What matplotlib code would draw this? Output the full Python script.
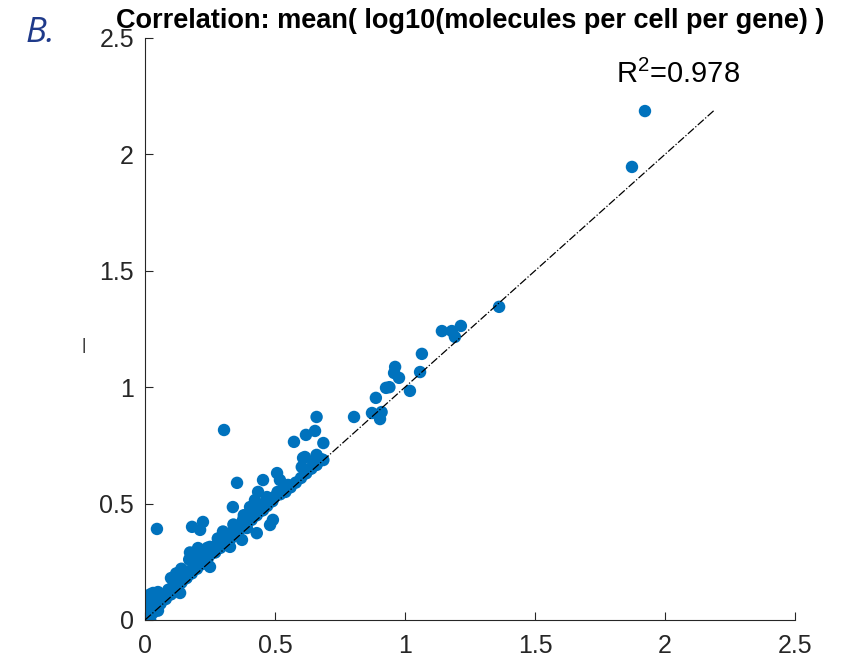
import matplotlib
matplotlib.use('Agg')
import matplotlib.pyplot as plt

# mean log10 molecules per cell per gene, method A (x) vs method B (y)
x = [0.00, 0.01, 0.02, 0.00, 0.01, 0.03, 0.02, 0.04, 0.05, 0.03, 0.06, 0.07,
     0.08, 0.05, 0.10, 0.09, 0.12, 0.11, 0.13, 0.10, 0.14, 0.15, 0.12, 0.16,
     0.17, 0.14, 0.18, 0.19, 0.20, 0.21, 0.17, 0.22, 0.23, 0.20, 0.24, 0.25,
     0.26, 0.24, 0.27, 0.28, 0.29, 0.30, 0.28, 0.31, 0.32, 0.33, 0.30, 0.34,
     0.35, 0.36, 0.34, 0.37, 0.38, 0.39, 0.40, 0.38, 0.41, 0.42, 0.43, 0.44,
     0.42, 0.45, 0.46, 0.47, 0.48, 0.49, 0.50, 0.51, 0.52, 0.53, 0.54, 0.55,
     0.56, 0.58, 0.60, 0.62, 0.64, 0.66, 0.68,
     0.008, 0.031, 0.046, 0.096, 0.123, 0.135, 0.146, 0.135, 0.173, 0.181,
     0.204, 0.212, 0.223, 0.238, 0.250, 0.250, 0.277, 0.300, 0.304, 0.327,
     0.338, 0.338, 0.354, 0.354, 0.373, 0.377, 0.392, 0.404, 0.415, 0.423,
     0.430, 0.435, 0.454, 0.454, 0.469, 0.481, 0.492, 0.508, 0.519, 0.558,
     0.573, 0.603, 0.608, 0.615, 0.619, 0.647, 0.654, 0.660, 0.660, 0.660,
     0.686, 0.686, 0.804, 0.873, 0.888, 0.904, 0.910, 0.927, 0.940, 0.958,
     0.962, 0.977, 1.019, 1.058, 1.065, 1.142, 1.180, 1.192, 1.215, 1.362,
     1.873, 1.923]
y = [0.01, 0.02, 0.00, 0.05, 0.08, 0.03, 0.11, 0.06, 0.04, 0.09, 0.07, 0.10,
     0.09, 0.12, 0.11, 0.13, 0.14, 0.15, 0.17, 0.18, 0.16, 0.19, 0.20, 0.18,
     0.21, 0.22, 0.20, 0.23, 0.22, 0.25, 0.26, 0.24, 0.27, 0.29, 0.26, 0.28,
     0.30, 0.31, 0.29, 0.32, 0.31, 0.33, 0.35, 0.34, 0.36, 0.35, 0.38, 0.37,
     0.39, 0.38, 0.41, 0.40, 0.42, 0.41, 0.44, 0.45, 0.43, 0.46, 0.45, 0.48,
     0.49, 0.47, 0.50, 0.49, 0.52, 0.51, 0.53, 0.55, 0.54, 0.56, 0.55, 0.58,
     0.57, 0.59, 0.61, 0.63, 0.65, 0.67, 0.69,
     0.086, 0.116, 0.391, 0.129, 0.185, 0.206, 0.172, 0.116, 0.290, 0.400,
     0.309, 0.387, 0.421, 0.271, 0.314, 0.228, 0.322, 0.344, 0.816, 0.314,
     0.485, 0.378, 0.589, 0.400, 0.344, 0.430, 0.395, 0.485, 0.460, 0.515,
     0.373, 0.550, 0.601, 0.472, 0.528, 0.408, 0.430, 0.631, 0.601, 0.576,
     0.765, 0.657, 0.696, 0.700, 0.795, 0.674, 0.812, 0.709, 0.666, 0.872,
     0.760, 0.687, 0.872, 0.889, 0.954, 0.863, 0.893, 0.997, 1.000, 1.061,
     1.087, 1.040, 0.984, 1.065, 1.143, 1.241, 1.241, 1.216, 1.263, 1.345,
     1.946, 2.186]
fit_x = [0, 2.19]
ticks = [0, 0.5, 1, 1.5, 2, 2.5]
tick_labels = ['0', '0.5', '1', '1.5', '2', '2.5']
r2_label = 'R$^2$=0.978'
title = 'Correlation: mean( log10(molecules per cell per gene) )'

plt.rcParams['font.family'] = ['Liberation Sans', 'DejaVu Sans']
plt.rcParams['mathtext.fontset'] = 'custom'
plt.rcParams['mathtext.rm'] = 'Liberation Sans'
plt.rcParams['mathtext.it'] = 'Liberation Sans'

fig = plt.figure(figsize=(8.41, 6.67), dpi=100)
ax = fig.add_axes([0.1724, 0.0705, 0.7729, 0.8726])

ax.scatter(x, y, s=80, color='#0072BD', edgecolors='none', zorder=2)
ax.plot(fit_x, fit_x, color='black', linestyle='-.', linewidth=0.9, zorder=3)

ax.set_xlim(0, 2.5)
ax.set_ylim(0, 2.5)
ax.set_xticks(ticks)
ax.set_xticklabels(tick_labels)
ax.set_yticks(ticks)
ax.set_yticklabels(tick_labels)
ax.tick_params(direction='in', length=5.5, width=0.8, labelsize=18,
               colors='#262626')
ax.tick_params(axis='x', pad=10)
ax.tick_params(axis='y', pad=8)
for s in ['top', 'right']:
    ax.spines[s].set_visible(False)
for s in ['left', 'bottom']:
    ax.spines[s].set_color('#262626')
    ax.spines[s].set_linewidth(0.8)

ax.set_title(title, fontsize=19.5, fontweight='bold', pad=7)
ax.set_ylabel('|', fontsize=12, color='#262626', rotation=0,
              va='center', ha='center')
ax.yaxis.set_label_coords(-0.094, 0.472)

ax.text(2.05, 2.307, r2_label, fontsize=21, ha='center', va='baseline',
        color='black')

fig.text(0.03, 0.95, 'B.', fontsize=25, style='italic', color='#1F3A8A',
         family=['Open Sans', 'DejaVu Sans'], ha='left', va='center')

fig.savefig('out.png', dpi=100)
